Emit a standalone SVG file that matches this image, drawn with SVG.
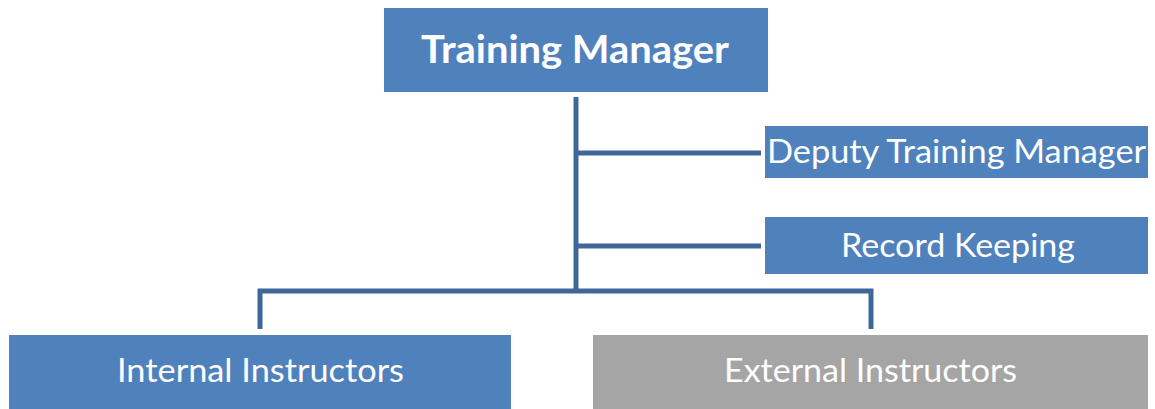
<svg xmlns="http://www.w3.org/2000/svg" width="1155" height="409" viewBox="0 0 1155 409">
<style>
.blue{fill:#4F81BD}
.gray{fill:#A5A5A5}
.t{font-family:Lato,"Open Sans","Liberation Sans",sans-serif;fill:#FFFFFF;text-anchor:middle;font-size:32px}
.b{font-weight:bold;font-size:39px}
.c{fill:none;stroke:#3F6899;stroke-width:5}
</style>
<rect width="1155" height="409" fill="#FFFFFF"/>
<g id="connectors">
<path class="c" d="M576,97 V291"/>
<path class="c" d="M576,153 H761"/>
<path class="c" d="M576,246 H761"/>
<path class="c" d="M260,329 V291 H871 V329"/>
</g>
<g id="training-manager">
<rect class="blue" x="384" y="8" width="384" height="84"/>
<text class="t b" x="575" y="63" textLength="308" lengthAdjust="spacingAndGlyphs">Training Manager</text>
</g>
<g id="deputy-training-manager">
<rect class="blue" x="765" y="126" width="383" height="52"/>
<text class="t" x="956.5" y="163" textLength="379" lengthAdjust="spacingAndGlyphs">Deputy Training Manager</text>
</g>
<g id="record-keeping">
<rect class="blue" x="765" y="217" width="383" height="57"/>
<text class="t" x="958" y="257" textLength="234" lengthAdjust="spacingAndGlyphs">Record Keeping</text>
</g>
<g id="internal-instructors">
<rect class="blue" x="9" y="335" width="502" height="74"/>
<text class="t" x="260.5" y="382" textLength="287" lengthAdjust="spacingAndGlyphs">Internal Instructors</text>
</g>
<g id="external-instructors">
<rect class="gray" x="593" y="335" width="555" height="74"/>
<text class="t" x="870.5" y="382" textLength="293" lengthAdjust="spacingAndGlyphs">External Instructors</text>
</g>
</svg>
